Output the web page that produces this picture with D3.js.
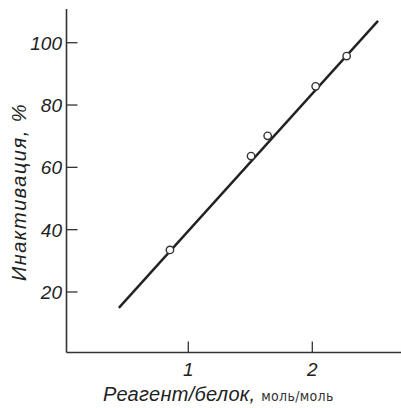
<!DOCTYPE html>
<html><head><meta charset="utf-8">
<script src="https://cdn.jsdelivr.net/npm/d3@7/dist/d3.min.js"></script>
<style>
html,body{margin:0;padding:0;background:#fff;}
svg text{font-family:"Liberation Sans Narrow","Liberation Sans",sans-serif;fill:#222;}
</style></head>
<body>
<svg id="c" width="401" height="408"></svg>
<script>
// Data
const pointsX = [0.852, 1.506, 1.640, 2.027, 2.277];
const pointsY = [33.5, 63.6, 70.1, 86.0, 95.7];
const lineX = [0.44, 2.53];
const lineY = [14.9, 107.0];
const xTicks = [1, 2];
const yTicks = [20, 40, 60, 80, 100];
const xTitle = "Реагент/белок, ";
const xTitleUnit = "моль/моль";
const yTitle = "Инактивация, %";

const svg = d3.select("#c");
const x = d3.scaleLinear().domain([0, 2]).range([64.3, 312.3]);
const y = d3.scaleLinear().domain([0, 100]).range([354.3, 42.7]);

const axisX0 = 66.5, axisY0 = 352.5;
const ink = "#333";

// y axis line
svg.append("line").attr("x1", axisX0).attr("x2", axisX0)
  .attr("y1", 9).attr("y2", axisY0).attr("stroke", ink).attr("stroke-width", 1.6);
// x axis line
svg.append("line").attr("x1", axisX0).attr("x2", 401)
  .attr("y1", axisY0).attr("y2", axisY0).attr("stroke", ink).attr("stroke-width", 1.6);

// y ticks
const yt = svg.append("g");
yTicks.forEach(v => {
  yt.append("line").attr("x1", axisX0).attr("x2", axisX0 + 11)
    .attr("y1", y(v)).attr("y2", y(v)).attr("stroke", ink).attr("stroke-width", 1.3);
  yt.append("text").attr("x", 62).attr("y", y(v) + 7)
    .attr("text-anchor", "end").attr("font-size", 19).attr("font-style", "italic")
    .text(v);
});
// x ticks
const xt = svg.append("g");
xTicks.forEach(v => {
  xt.append("line").attr("x1", x(v)).attr("x2", x(v))
    .attr("y1", axisY0).attr("y2", axisY0 - 11).attr("stroke", ink).attr("stroke-width", 1.3);
  xt.append("text").attr("x", x(v)).attr("y", 376)
    .attr("text-anchor", "middle").attr("font-size", 19).attr("font-style", "italic")
    .text(v);
});

// fitted line
const lineData = lineX.map((d, i) => [d, lineY[i]]);
svg.append("path").datum(lineData)
  .attr("d", d3.line().x(d => x(d[0])).y(d => y(d[1])))
  .attr("stroke", "#222").attr("stroke-width", 2.4).attr("fill", "none");

// points
svg.append("g").selectAll("circle").data(pointsX.map((d, i) => [d, pointsY[i]]))
  .join("circle")
  .attr("cx", d => x(d[0])).attr("cy", d => y(d[1])).attr("r", 3.7)
  .attr("fill", "#fff").attr("stroke", "#333").attr("stroke-width", 1.4);

// x title
const xtTxt = svg.append("text").attr("x", 103).attr("y", 401).attr("font-size", 20);
xtTxt.append("tspan").attr("font-style", "italic").attr("letter-spacing", 0.3).text(xTitle);
xtTxt.append("tspan").attr("font-size", 14).attr("font-family", "'DejaVu Sans Condensed','Liberation Sans Narrow',sans-serif")
  .attr("fill", "#333").attr("letter-spacing", 0.3).text(xTitleUnit);

// y title
svg.append("text").attr("transform", "translate(26,192) rotate(-90)")
  .attr("text-anchor", "middle").attr("font-size", 20).attr("font-style", "italic")
  .attr("letter-spacing", 1.5).text(yTitle);
</script>
</body></html>
